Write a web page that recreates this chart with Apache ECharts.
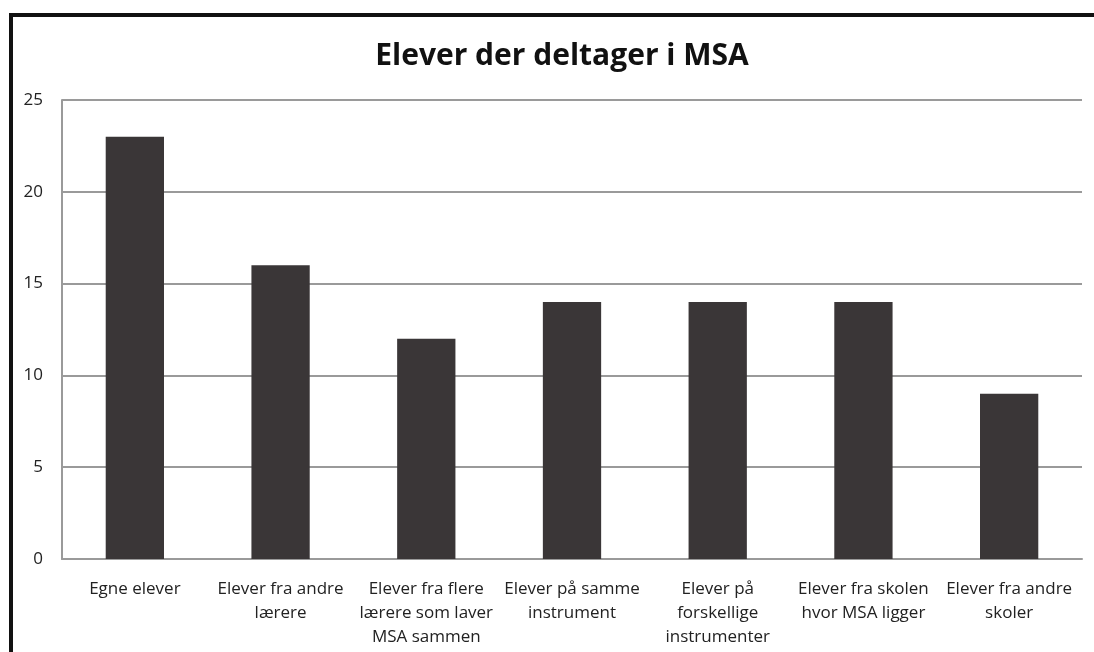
<!DOCTYPE html>
<html>
<head>
<meta charset="utf-8">
<script src="https://cdn.jsdelivr.net/npm/echarts@6/dist/echarts.min.js"></script>
<style>
  html, body { margin: 0; padding: 0; background: #fff; overflow: hidden; }
  #frame { position: absolute; left: 9px; top: 13px; width: 1100px; height: 660px; border: 4px solid #111; box-sizing: border-box; }
  #main { position: absolute; left: 0; top: 0; width: 1094px; height: 652px; }
</style>
</head>
<body>
<div id="frame"></div>
<div id="main"></div>
<script>
var categories = [
    'Egne elever',
    'Elever fra andre\nlærere',
    'Elever fra flere\nlærere som laver\nMSA sammen',
    'Elever på samme\ninstrument',
    'Elever på\nforskellige\ninstrumenter',
    'Elever fra skolen\nhvor MSA ligger',
    'Elever fra andre\nskoler'
];
var values = [23, 16, 12, 14, 14, 14, 9];
var yTicks = [0, 5, 10, 15, 20, 25];

var myChart = echarts.init(document.getElementById('main'));
var option = {
    animation: false,
    title: {
        text: 'Elever der deltager i MSA',
        left: 557,
        textAlign: 'center',
        top: 36,
        textStyle: { fontFamily: 'Open Sans', fontSize: 30, fontWeight: 'bold', color: '#111' }
    },
    grid: { left: 62, right: 12, top: 100, bottom: 93, containLabel: false },
    xAxis: {
        type: 'category',
        data: categories,
        axisLine: { lineStyle: { color: '#9a9a9a', width: 2 } },
        axisTick: { show: false },
        axisLabel: {
            interval: 0,
            margin: 18,
            fontFamily: 'Open Sans',
            fontSize: 17,
            lineHeight: 24,
            color: '#222'
        }
    },
    yAxis: {
        type: 'value',
        min: yTicks[0],
        max: yTicks[yTicks.length - 1],
        interval: 5,
        axisLine: { show: true, lineStyle: { color: '#9a9a9a', width: 2 } },
        axisTick: { show: false },
        splitLine: { lineStyle: { color: '#9a9a9a', width: 2 } },
        axisLabel: { margin: 19, fontFamily: 'Open Sans', fontSize: 17, color: '#222' }
    },
    series: [{
        type: 'bar',
        data: values,
        barCategoryGap: '60%',
        itemStyle: { color: '#3a3637' }
    }]
};
myChart.setOption(option);
</script>
</body>
</html>
